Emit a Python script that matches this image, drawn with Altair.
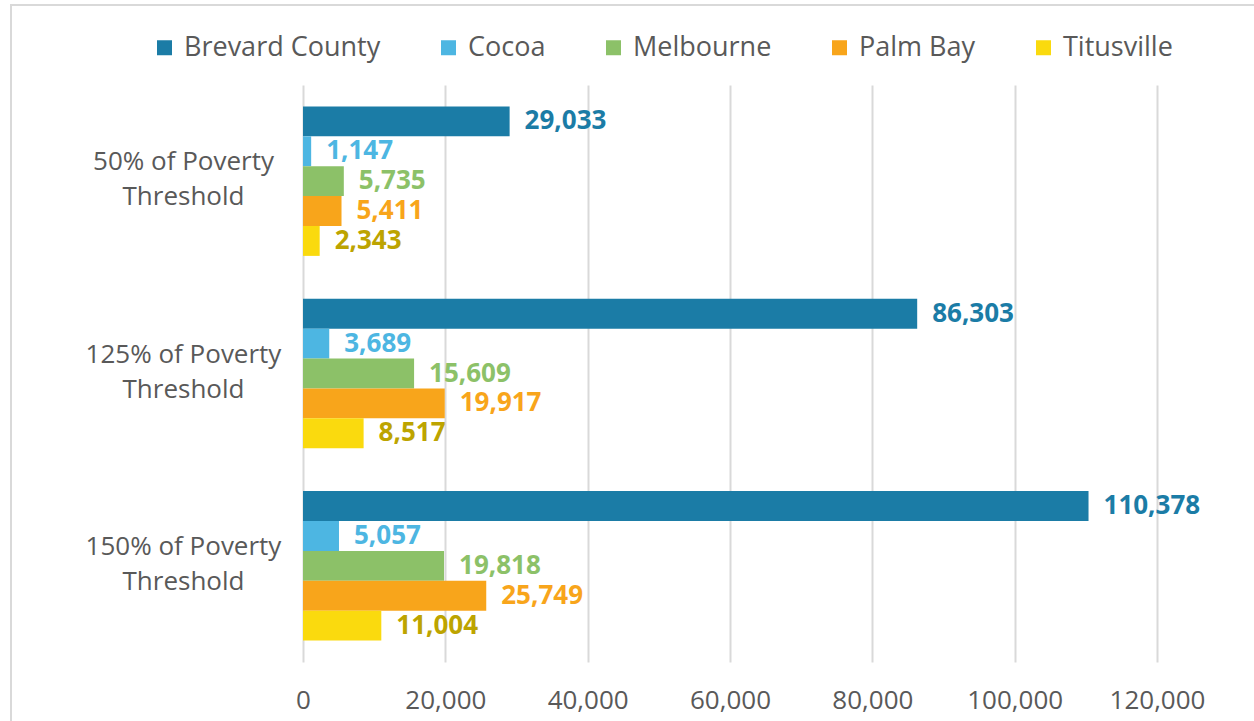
import altair as alt
import pandas as pd

categories = ["50% of Poverty|Threshold", "125% of Poverty|Threshold", "150% of Poverty|Threshold"]
series = ["Brevard County", "Cocoa", "Melbourne", "Palm Bay", "Titusville"]
values = {
    "Brevard County": [29033, 86303, 110378],
    "Cocoa": [1147, 3689, 5057],
    "Melbourne": [5735, 15609, 19818],
    "Palm Bay": [5411, 19917, 25749],
    "Titusville": [2343, 8517, 11004],
}
bar_colors = ["#1B7CA6", "#4DB6E2", "#8CC168", "#F8A51B", "#FADA0E"]
label_colors = ["#1B7CA6", "#4DB6E2", "#8CC168", "#F8A51B", "#BDA400"]
x_ticks = [0, 20000, 40000, 60000, 80000, 100000, 120000]

rows = []
for si, s in enumerate(series):
    for ci, c in enumerate(categories):
        rows.append({"cat": c, "series": s, "value": values[s][ci],
                     "lc": label_colors[si]})
df = pd.DataFrame(rows)

FONT = "Open Sans"
W, H = 854, 577

y_enc = alt.Y("cat:N", sort=categories,
              scale=alt.Scale(paddingInner=0.223, paddingOuter=0.1115),
              axis=alt.Axis(title=None, ticks=False, domain=False, grid=False,
                            labelAlign="center", labelPadding=120, labelLimit=400,
                            labelFont=FONT, labelFontSize=26, labelColor="#595959",
                            labelLineHeight=35, labelBaseline="middle", labelOffset=-19,
                            labelExpr="split(datum.label, '|')"))
yoff = alt.YOffset("series:N", sort=series, scale=alt.Scale(paddingInner=0, paddingOuter=0))

bars = alt.Chart(df).mark_bar().encode(
    x=alt.X("value:Q", scale=alt.Scale(domain=[0, 120000], nice=False),
            axis=alt.Axis(title=None, values=x_ticks, format=",d", domain=False, ticks=False,
                          grid=True, gridColor="#D9D9D9", gridWidth=2, labelOverlap=False,
                          labelFlush=False, labelAlign="center",
                          labelFont=FONT, labelFontSize=26, labelColor="#595959",
                          labelPadding=25)),
    y=y_enc,
    yOffset=yoff,
    color=alt.Color("series:N", sort=series,
                    scale=alt.Scale(domain=series, range=bar_colors),
                    legend=alt.Legend(title=None, orient="none", direction="horizontal",
                                      legendX=-152, legendY=-51,
                                      symbolType="square", symbolSize=225,
                                      symbolStrokeWidth=0, symbolOpacity=1,
                                      labelFont=FONT, labelFontSize=27, labelColor="#595959",
                                      labelOffset=6, columnPadding=54, labelLimit=400)),
)

labels = alt.Chart(df).mark_text(align="left", baseline="middle", dx=15,
                                  font=FONT, fontSize=26, fontWeight="bold").encode(
    x="value:Q",
    y=alt.Y("cat:N", sort=categories),
    yOffset=yoff,
    text=alt.Text("value:Q", format=",d"),
    color=alt.Color("lc:N", scale=None),
)

border_top = alt.Chart(df).mark_rule(color="#D9D9D9", strokeWidth=2).encode(
    x=alt.value(-293), x2=alt.value(960), y=alt.value(-80))
border_left = alt.Chart(df).mark_rule(color="#D9D9D9", strokeWidth=2).encode(
    x=alt.value(-292), y=alt.value(-81), y2=alt.value(650))

chart = alt.layer(border_top, border_left, bars, labels).properties(
    width=W, height=H,
    autosize=alt.AutoSizeParams(type="none"),
    padding={"left": 303, "top": 85, "right": 97, "bottom": 59},
    background="white",
).configure_view(stroke=None)

chart.save("out.html", embed_options={"renderer": "svg", "actions": False})
